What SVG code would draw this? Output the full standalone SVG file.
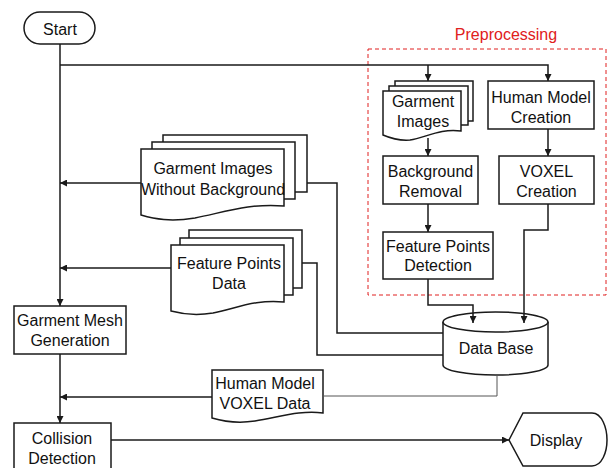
<svg xmlns="http://www.w3.org/2000/svg" width="609" height="468" viewBox="0 0 609 468">
<defs>
<marker id="ah" viewBox="0 0 10 10" refX="10" refY="5" markerWidth="7" markerHeight="7" markerUnits="userSpaceOnUse" orient="auto">
<path d="M0,0 L10,5 L0,10 Z" fill="#1a1a1a"/>
</marker>
<style>
.s{fill:#fff;stroke:#1a1a1a;stroke-width:1.5}
.c{fill:none;stroke:#1a1a1a;stroke-width:1.5}
.t{font-family:"Liberation Sans",Arial,sans-serif;font-size:16px;fill:#111;text-anchor:middle}
</style>
</defs>
<rect width="609" height="468" fill="#fff"/>
<g id="preprocessing">
<rect x="368" y="49" width="238" height="246" fill="none" stroke="#e02020" stroke-width="1" stroke-dasharray="4,3"/>
<text class="t" x="506" y="40" style="fill:#e02020">Preprocessing</text>
</g>
<g id="start">
<rect class="s" x="24" y="12" width="71" height="32" rx="16"/>
<text class="t" x="60" y="35">Start</text>
</g>
<g id="garment-images">
<path class="s" d="M395,86 V81 H473 V121 H468"/>
<path class="s" d="M389,91 V86 H468 V125 H461"/>
<path class="s" d="M383,91 H461 V131 C440,128 425,138 410,140 C398,141 390,138 383,135 Z"/>
<text class="t" x="423" y="107">Garment</text>
<text class="t" x="423" y="127">Images</text>
</g>
<g id="human-model-creation">
<rect class="s" x="488" y="81" width="106" height="48"/>
<text class="t" x="541" y="103">Human Model</text>
<text class="t" x="541" y="123">Creation</text>
</g>
<g id="background-removal">
<rect class="s" x="383" y="156" width="95" height="48"/>
<text class="t" x="430.5" y="177">Background</text>
<text class="t" x="430.5" y="197">Removal</text>
</g>
<g id="voxel-creation">
<rect class="s" x="499" y="156" width="95" height="48"/>
<text class="t" x="546.5" y="177">VOXEL</text>
<text class="t" x="546.5" y="197">Creation</text>
</g>
<g id="feature-points-detection">
<rect class="s" x="383" y="232" width="110" height="47"/>
<text class="t" x="438" y="252">Feature Points</text>
<text class="t" x="438" y="271">Detection</text>
</g>
<g id="garment-images-without-background">
<path class="s" d="M163,142 V135 H307 V192 H295"/>
<path class="s" d="M152,149 V142 H295 V199 H284"/>
<path class="s" d="M141,149 H284 V206 C250,203 225,212 195,218 C170,222 155,219 141,215 Z"/>
<text class="t" x="213" y="174">Garment Images</text>
<text class="t" x="213" y="195">Without Background</text>
</g>
<g id="feature-points-data">
<path class="s" d="M189,238 V230 H302 V288 H293"/>
<path class="s" d="M180,245 V238 H293 V295 H284"/>
<path class="s" d="M171,245 H284 V302 C257,299 237,308 213,313 C195,316 182,314 171,311 Z"/>
<text class="t" x="229" y="269">Feature Points</text>
<text class="t" x="229" y="289">Data</text>
</g>
<g id="data-base">
<path class="s" d="M443,322 V365 A52.5,10 0 0 0 548,365 V322"/>
<ellipse class="s" cx="495.5" cy="322" rx="52.5" ry="10"/>
<text class="t" x="496" y="354">Data Base</text>
</g>
<g id="garment-mesh-generation">
<rect class="s" x="14" y="306" width="112" height="48"/>
<text class="t" x="70" y="326">Garment Mesh</text>
<text class="t" x="70" y="346">Generation</text>
</g>
<g id="human-model-voxel-data">
<path class="s" d="M212,370 H323 V413 C300,410 280,417 255,421 C235,424 222,421 212,418 Z"/>
<text class="t" x="265" y="389">Human Model</text>
<text class="t" x="265" y="409">VOXEL Data</text>
</g>
<g id="collision-detection">
<rect class="s" x="14" y="423" width="97" height="50"/>
<text class="t" x="62" y="444">Collision</text>
<text class="t" x="62" y="464">Detection</text>
</g>
<g id="display">
<path class="s" d="M509,440 L523,413 H592 C602,413 607,428 607,440 C607,452 602,466 592,466 H523 Z"/>
<text class="t" x="556" y="446">Display</text>
</g>
<g id="connectors">
<path class="c" d="M60,44 V306" marker-end="url(#ah)"/>
<path class="c" d="M60,65 H548 V81" marker-end="url(#ah)"/>
<path class="c" d="M428,65 V81" marker-end="url(#ah)"/>
<path class="c" d="M428,138 V156" marker-end="url(#ah)"/>
<path class="c" d="M548,129 V156" marker-end="url(#ah)"/>
<path class="c" d="M428,204 V232" marker-end="url(#ah)"/>
<path class="c" d="M428,279 V305 H473 V323" marker-end="url(#ah)"/>
<path class="c" d="M548,204 V230 H524 V323" marker-end="url(#ah)"/>
<path class="c" d="M141,183 H60" marker-end="url(#ah)"/>
<path class="c" d="M171,268 H60" marker-end="url(#ah)"/>
<path class="c" d="M443,333 H337 V183 H307"/>
<path class="c" d="M443,355 H317 V263 H302"/>
<path class="c" d="M497,375 V396 H323" style="stroke:#555;stroke-width:1"/>
<path class="c" d="M212,397 H60" marker-end="url(#ah)"/>
<path class="c" d="M60,354 V423" marker-end="url(#ah)"/>
<path class="c" d="M111,440 H509" marker-end="url(#ah)"/>
</g>
</svg>
